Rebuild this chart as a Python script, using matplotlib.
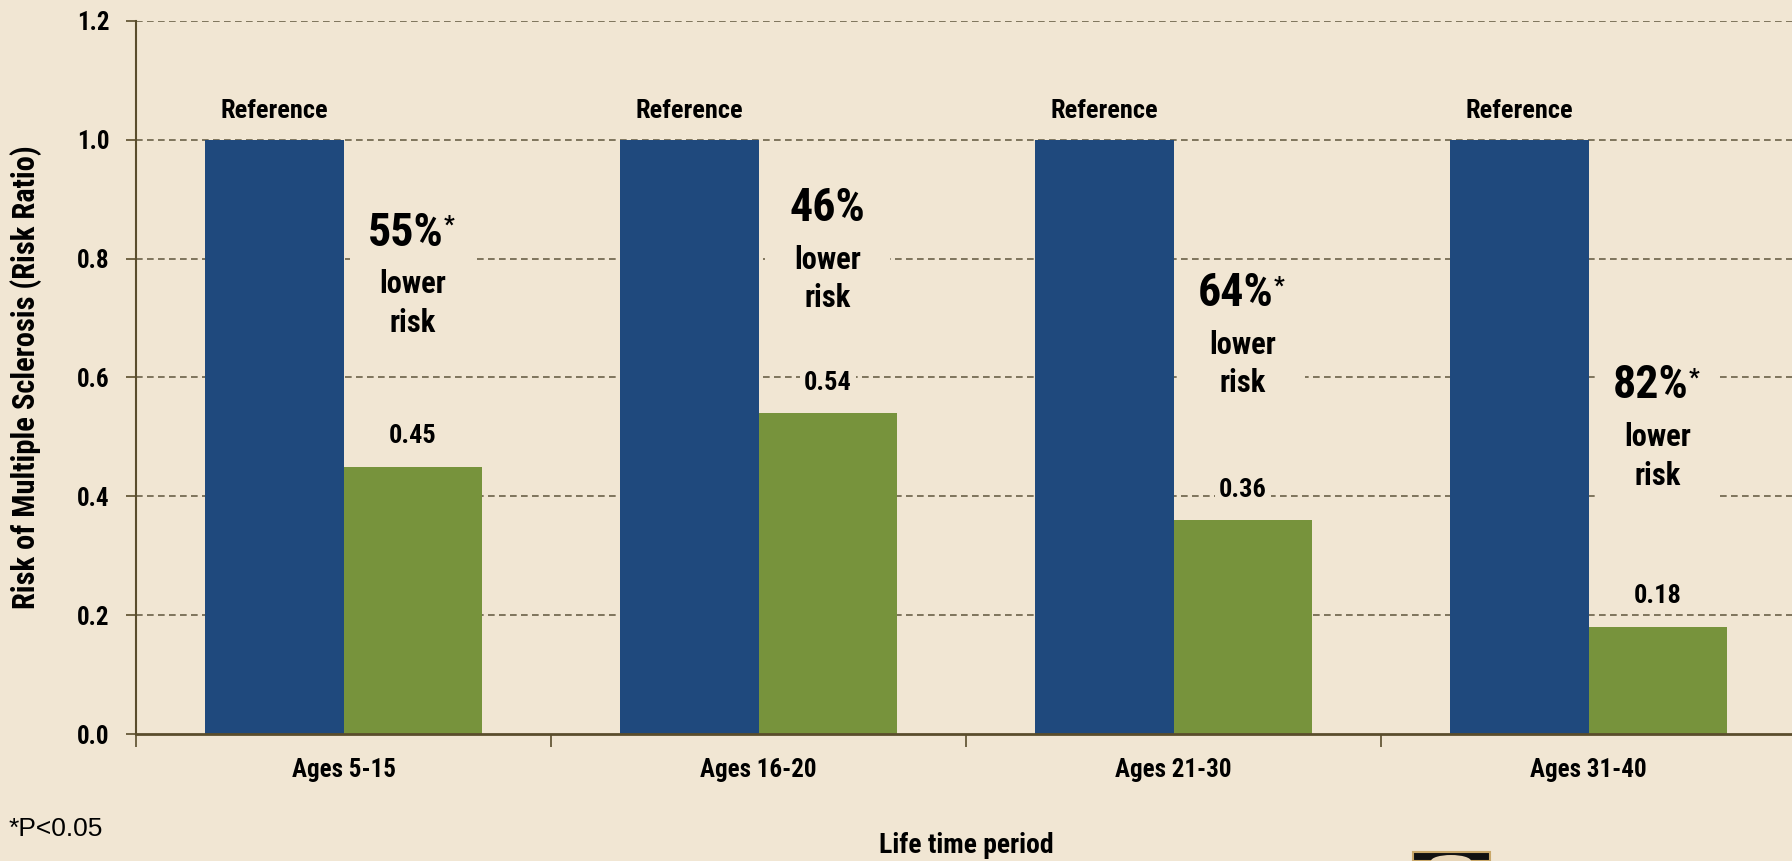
import matplotlib
matplotlib.use("Agg")
import matplotlib.pyplot as plt
from matplotlib import font_manager
from matplotlib.patches import Rectangle, Ellipse

# ---------------- data ----------------
categories = ["Ages 5-15", "Ages 16-20", "Ages 21-30", "Ages 31-40"]
reference_values = [1.0, 1.0, 1.0, 1.0]
exposed_values = [0.45, 0.54, 0.36, 0.18]
value_labels = ["0.45", "0.54", "0.36", "0.18"]
reduction_labels = ["55%", "46%", "64%", "82%"]
significant = [True, False, True, True]
y_ticks = [0.0, 0.2, 0.4, 0.6, 0.8, 1.0, 1.2]
y_tick_labels = ["0.0", "0.2", "0.4", "0.6", "0.8", "1.0", "1.2"]
# vertical centre of the "xx%" line of each annotation (layout)
annot_pct_y = [0.844, 0.885, 0.742, 0.587]

# ---------------- fonts ----------------
def pick(cands):
    for c in cands:
        try:
            font_manager.findfont(font_manager.FontProperties(family=c), fallback_to_default=False)
            return c
        except Exception:
            pass
    return "DejaVu Sans"

COND = pick(["Liberation Sans Narrow", "Roboto Condensed", "Open Sans Condensed", "DejaVu Sans"])
ARIAL = pick(["Liberation Sans", "Arimo", "DejaVu Sans"])
cond = dict(family=COND, weight="bold", stretch="condensed")

BG = "#F1E6D3"
BLUE = "#1F497D"
GREEN = "#77933C"
GRID = "#6B6148"
SPINE = "#5A4D2C"

W, H = 1792, 861
fig = plt.figure(figsize=(W / 100, H / 100), dpi=100, facecolor=BG)
ax = fig.add_axes([136 / W, 1 - 734 / H, 1660 / W, (734 - 21) / H])
ax.set_facecolor(BG)

xs = list(range(len(categories)))
bw = 1 / 3
ax.bar([x - bw / 2 for x in xs], reference_values, width=bw, color=BLUE, zorder=2)
ax.bar([x + bw / 2 for x in xs], exposed_values, width=bw, color=GREEN, zorder=2)

ax.set_xlim(-0.5, 3.5)
ax.set_ylim(0, 1.2)

# grid
for y in y_ticks[1:]:
    ax.axhline(y, color=GRID, lw=1.2, ls=(0, (4, 2.6)), zorder=1)

# spines
for s in ["top", "right"]:
    ax.spines[s].set_visible(False)
ax.spines["left"].set_color(SPINE)
ax.spines["left"].set_linewidth(1.5)
ax.spines["bottom"].set_color(SPINE)
ax.spines["bottom"].set_linewidth(2.0)
ax.spines["left"].set_zorder(3)
ax.spines["bottom"].set_zorder(3)

ax.set_yticks(y_ticks)
ax.set_yticklabels(y_tick_labels, fontdict=dict(size=18, **cond))
ax.tick_params(axis="y", length=7, width=1.2, color=SPINE, pad=12)

ax.set_xticks([x - 0.5 for x in xs])
ax.set_xticklabels([])
ax.tick_params(axis="x", which="major", length=9, width=1.2, color=SPINE)
ax.set_xticks(xs, minor=True)
ax.set_xticklabels(categories, minor=True, fontdict=dict(size=18, **cond))
ax.tick_params(axis="x", which="minor", length=0, pad=17)

ax.set_xlabel("Life time period", fontdict=dict(size=20, **cond), labelpad=36)
ax.set_ylabel("Risk of Multiple Sclerosis (Risk Ratio)", fontdict=dict(size=22, **cond))
ax.yaxis.set_label_coords(-0.0566, 0.5)

# bar labels
for x, v in zip(xs, reference_values):
    ax.annotate("Reference", (x - bw / 2, v), xytext=(0, 21), textcoords="offset points",
                ha="center", va="center", size=19, zorder=5, **cond)
for x, v, lab in zip(xs, exposed_values, value_labels):
    ax.annotate(lab, (x + bw / 2, v), xytext=(0, 22), textcoords="offset points",
                ha="center", va="center", size=19, zorder=5,
                bbox=dict(boxstyle="square,pad=0.15", fc=BG, ec="none"), **cond)

# reduction annotations
for x, py, pct, sig in zip(xs, annot_pct_y, reduction_labels, significant):
    cx = x + bw / 2
    ax.add_patch(Rectangle((cx - 0.15, py - 0.2), 0.30, 0.245, facecolor=BG,
                           edgecolor="none", zorder=1.5))
    t = ax.annotate(pct, (cx, py), xytext=(-5 if sig else 0, 0), textcoords="offset points",
                    ha="center", va="center", size=33, zorder=5, **cond)
    if sig:
        ax.annotate("*", xy=(1.0, 0.92), xycoords=t, ha="left", va="top", size=17,
                    zorder=5, **cond)
    ax.annotate("lower", (cx, py), xytext=(0, -37), textcoords="offset points",
                ha="center", va="center", size=22, zorder=5, **cond)
    ax.annotate("risk", (cx, py), xytext=(0, -65), textcoords="offset points",
                ha="center", va="center", size=22, zorder=5, **cond)

# footnote
fig.text(9 / W, 1 - 829 / H, "*P<0.05", family=ARIAL, size=19, ha="left", va="center")

# small logo fragment at bottom edge
fig.patches.append(Rectangle((1413 / W, 0), 77 / W, 9 / H, transform=fig.transFigure,
                             facecolor="#111111", edgecolor="#C9A86A", lw=1.5))
fig.patches.append(Ellipse((1451 / W, 0), 40 / W, 12 / H, transform=fig.transFigure,
                           facecolor="#E8D6B8", edgecolor="none"))

fig.savefig("out.png", dpi=100, facecolor=BG)
